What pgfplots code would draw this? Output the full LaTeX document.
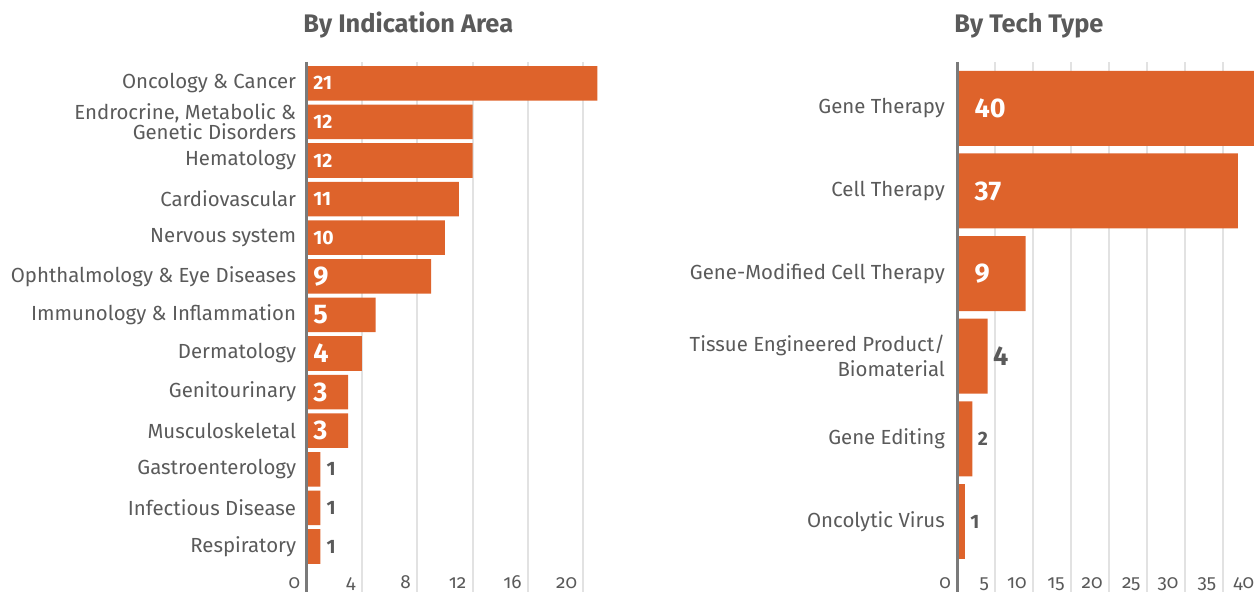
\documentclass[border=0pt]{standalone}
\usepackage{pgfplots}
\pgfplotsset{compat=1.18}
\usepackage{pgfplotstable}
\usepackage{fontspec}
\setmainfont{Fira Sans}
\newfontfamily\titlefont{Fira Sans}
\newfontfamily\tickfont[Numbers=OldStyle]{Fira Sans}
\definecolor{barc}{HTML}{DE632B}
\definecolor{txt}{HTML}{5A5A5A}
\definecolor{gridc}{HTML}{E2E2E2}
\definecolor{axc}{HTML}{7A7A7A}

\pgfplotstableread{
pos v in big
0 21 1 0
1 12 1 0
2 12 1 0
3 11 1 0
4 10 1 0
5 9 1 1
6 5 1 1
7 4 1 1
8 3 1 1
9 3 1 1
10 1 0 0
11 1 0 0
12 1 0 0
}\indic

\pgfplotstableread{
pos v in big
0 40 1 1
1 37 1 1
2 9 1 1
3 4 0 1
4 2 0 0
5 1 0 0
}\tech

\pgfplotsset{
  common/.style={
    scale only axis,
    height=265pt,
    y dir=reverse,
    clip=false,
    axis line style={draw=none},
    major tick length=0pt,
    xmajorgrids,
    grid style={gridc, line width=1pt},
    /pgf/number format/assume math mode=true,
    xticklabel style={font=\tickfont\fontsize{9.5pt}{10pt}\selectfont, text=txt, anchor=base east, inner sep=0pt, yshift=1.5pt, xshift=-3pt},
  },
  lbl/.style={
    draw=none, mark=none,
    visualization depends on={\thisrow{in} \as \vlin},
    visualization depends on={\thisrow{big} \as \vlbig},
    point meta=\thisrow{v},
    nodes near coords={\ifdim\vlbig pt>0.5pt \fontsize{13.5pt}{14pt}\selectfont\else\fontsize{9.7pt}{10pt}\selectfont\fi\bfseries\ifdim\vlin pt>0.5pt \color{white}\else\color{txt}\fi\pgfmathprintnumber{\pgfplotspointmeta}},
  },
}

\begin{document}
\begin{tikzpicture}
\useasboundingbox (0,0) rectangle (627pt,296pt);
\clip (0,0) rectangle (627pt,296pt);

\node[anchor=base west, inner sep=0pt, text=txt] at (151.5pt,279.5pt) {\titlefont\fontsize{12.7pt}{14pt}\selectfont\bfseries By Indication Area};
\node[anchor=base west, inner sep=0pt, text=txt] at (477pt,279.5pt) {\titlefont\fontsize{12.7pt}{14pt}\selectfont\bfseries By Tech Type};

\begin{axis}[common,
  at={(153.25pt,0pt)}, anchor=south west,
  width=152.35pt,
  xmin=0, xmax=22,
  ymin=-0.552, ymax=13.178,
  xtick={0,4,8,12,16,20},
  ytick={0,...,12},
  yticklabels={Oncology \& Cancer,{Endrocrine, Metabolic \&\\Genetic Disorders},Hematology,Cardiovascular,Nervous system,Ophthalmology \& Eye Diseases,Immunology \& Inflammation,Dermatology,Genitourinary,Musculoskeletal,Gastroenterology,Infectious Disease,Respiratory},
  yticklabel style={font=\fontsize{10.2pt}{10pt}\selectfont, text=txt, align=right, anchor=east, inner sep=0pt, xshift=-5pt},
]
\addplot[xbar, bar width=0.895, fill=barc, draw=none] table[x=v, y=pos] {\indic};
\addplot[axc, line width=1.5pt] coordinates {(0,-0.552) (0,13.178)};
\addplot[lbl, every node near coord/.append style={anchor=west, inner sep=0pt, xshift=3pt+0.3pt*\vlin}]
  table[x expr=\thisrow{v}*(1-\thisrow{in}), y=pos] {\indic};
\end{axis}

\begin{axis}[common,
  at={(478.65pt,0pt)}, anchor=south west,
  width=151.65pt,
  xmin=0, xmax=40,
  ymin=-0.56, ymax=5.853,
  xtick={0,5,...,40},
  ytick={0,...,5},
  yticklabels={Gene Therapy,Cell Therapy,Gene-Modified Cell Therapy,{Tissue Engineered Product/\\Biomaterial},Gene Editing,Oncolytic Virus},
  yticklabel style={font=\fontsize{10.2pt}{12.5pt}\selectfont, text=txt, align=right, anchor=east, inner sep=0pt, xshift=-6pt},
]
\addplot[xbar, bar width=0.907, fill=barc, draw=none] table[x=v, y=pos] {\tech};
\addplot[axc, line width=1.5pt] coordinates {(0,-0.56) (0,5.853)};
\addplot[lbl, every node near coord/.append style={anchor=west, inner sep=0pt, xshift=2.5pt+6pt*\vlin}]
  table[x expr=\thisrow{v}*(1-\thisrow{in}), y=pos] {\tech};
\end{axis}
\end{tikzpicture}
\end{document}
